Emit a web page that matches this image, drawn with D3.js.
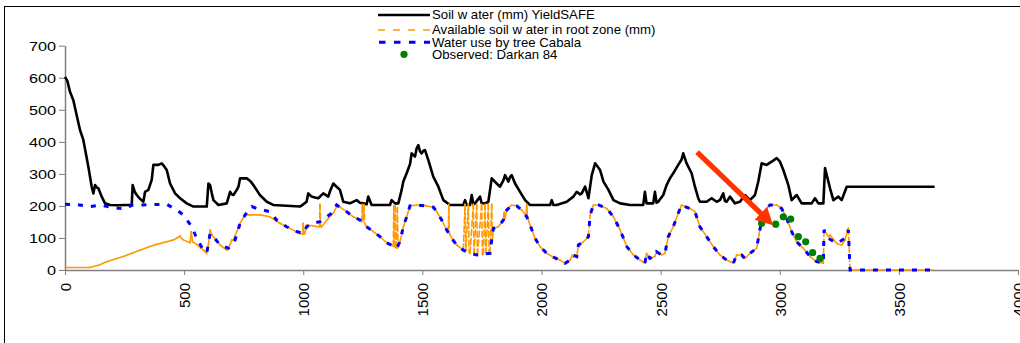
<!DOCTYPE html>
<html>
<head>
<meta charset="utf-8">
<script src="https://cdn.jsdelivr.net/npm/d3@7"></script>
<style>
  html, body { margin: 0; padding: 0; background: #fff; }
  svg { display: block; font-family: "Liberation Sans", Arial, sans-serif; }
</style>
</head>
<body>
<svg id="chart" width="1020" height="343"></svg>
<script>
// ---- data: [day, mm] ----
const soilWater = [
  [0,603],[10,590],[21,556],[35,530],[50,480],[63,437],[77,406],[98,322],[112,260],[119,239],[126,265],[133,258],
  [140,255],[154,229],[168,208],[189,203],[220,202],[259,203],[280,203],[284,265],[292,245],[301,234],[315,222],
  [329,213],[336,244],[350,250],[364,281],[371,328],[392,328],[406,333],[415,325],[427,312],[441,270],[462,239],
  [483,224],[511,208],[539,198],[595,198],[602,270],[609,265],[616,240],[623,218],[644,203],[679,208],[693,244],
  [700,236],[707,234],[721,250],[728,260],[735,286],[763,286],[777,278],[791,265],[818,234],[847,213],[874,203],
  [986,198],[1000,205],[1014,213],[1021,239],[1035,229],[1049,226],[1063,224],[1084,239],[1105,229],[1112,245],
  [1126,270],[1140,260],[1154,250],[1168,213],[1196,208],[1224,218],[1238,210],[1252,208],[1266,205],[1273,229],
  [1287,203],[1364,203],[1371,218],[1385,208],[1399,208],[1413,250],[1420,276],[1434,302],[1448,330],[1455,364],
  [1469,354],[1476,380],[1483,390],[1490,370],[1497,364],[1504,372],[1511,374],[1525,343],[1546,291],[1567,260],
  [1588,218],[1616,203],[1672,203],[1679,218],[1686,203],[1700,203],[1707,234],[1714,205],[1721,208],[1742,229],
  [1749,208],[1763,208],[1777,213],[1791,286],[1812,270],[1826,260],[1840,280],[1847,296],[1861,276],[1868,290],
  [1875,296],[1889,270],[1910,244],[1931,218],[1952,203],[2036,203],[2043,218],[2050,203],[2064,203],[2106,213],
  [2134,229],[2148,244],[2162,236],[2169,239],[2183,260],[2197,224],[2211,296],[2225,333],[2246,312],[2260,276],
  [2281,250],[2302,218],[2330,208],[2372,203],[2427,203],[2434,244],[2441,208],[2469,208],[2476,244],[2483,210],
  [2490,213],[2511,234],[2525,265],[2539,286],[2553,302],[2574,328],[2588,345],[2595,364],[2609,333],[2630,302],
  [2644,260],[2658,224],[2665,213],[2693,213],[2714,224],[2735,213],[2749,218],[2763,239],[2770,215],[2777,213],
  [2791,229],[2812,208],[2833,213],[2854,234],[2875,218],[2896,234],[2910,276],[2924,333],[2945,328],[2966,338],
  [2987,349],[3001,338],[3015,312],[3036,265],[3050,218],[3071,234],[3092,208],[3134,208],[3148,224],[3162,208],
  [3183,208],[3190,318],[3211,255],[3225,218],[3246,229],[3260,218],[3281,260],[3650,260]
];

const availableWater = [
  [0,8],[105,8],[140,15],[175,26],[210,34],[245,42],[280,52],[315,62],[350,72],[385,80],[427,88],[455,94],
  [469,99],[483,106],[490,98],[497,94],[525,85],[530,120],[535,88],[553,80],[567,70],[581,62],[595,52],[602,80],
  [609,125],[616,110],[623,104],[651,78],[679,62],[686,66],[700,94],[705,92],[721,120],[735,146],[756,172],
  [777,172],[819,172],[860,166],[902,146],[944,130],[986,114],[998,112],[1000,146],[1003,112],[1007,114],
  [1014,140],[1040,138],[1063,135],[1068,135],[1070,205],[1073,135],[1077,135],[1105,161],[1126,177],[1140,198],
  [1154,196],[1182,182],[1210,166],[1238,156],[1245,150],[1248,205],[1252,152],[1255,205],[1258,145],[1266,135],
  [1294,120],[1322,104],[1350,85],[1378,75],[1380,200],[1383,72],[1386,200],[1389,70],[1392,68],[1395,195],
  [1398,70],[1406,88],[1420,135],[1434,166],[1448,200],[1476,203],[1518,200],[1546,196],[1560,182],[1581,156],
  [1602,125],[1609,120],[1611,205],[1613,115],[1623,99],[1644,78],[1672,62],[1679,205],[1682,60],[1693,205],
  [1696,56],[1700,52],[1714,205],[1717,50],[1728,205],[1731,47],[1749,205],[1752,48],[1756,50],[1763,205],
  [1766,50],[1777,205],[1780,52],[1784,52],[1791,205],[1794,94],[1798,130],[1819,135],[1840,156],[1843,180],
  [1846,160],[1854,187],[1875,203],[1896,200],[1917,187],[1935,170],[1938,205],[1941,166],[1952,140],[1973,99],
  [1994,73],[2022,52],[2050,40],[2078,31],[2099,21],[2120,31],[2130,47],[2134,40],[2148,42],[2155,78],[2176,88],
  [2197,104],[2204,172],[2218,203],[2239,203],[2274,192],[2302,166],[2330,125],[2358,73],[2386,47],[2414,31],
  [2434,21],[2441,52],[2455,36],[2476,42],[2483,57],[2504,47],[2518,52],[2532,104],[2553,135],[2574,177],
  [2588,203],[2602,198],[2623,192],[2644,182],[2665,135],[2693,104],[2721,73],[2749,47],[2777,31],[2805,21],
  [2819,47],[2840,47],[2854,36],[2875,52],[2903,68],[2914,114],[2924,156],[2945,192],[2959,203],[2987,203],
  [3008,192],[3029,161],[3050,120],[3071,88],[3099,68],[3127,42],[3155,26],[3183,21],[3186,125],[3204,104],
  [3211,109],[3239,83],[3260,78],[3274,94],[3288,130],[3295,0],[3640,0]
];

const treeWaterUse = [
  [0,205],[50,204],[105,198],[150,202],[196,196],[252,190],[280,202],[350,204],[427,205],[469,187],[497,172],
  [532,135],[553,99],[581,62],[595,54],[602,83],[609,114],[623,104],[651,78],[686,68],[714,94],[735,146],
  [756,172],[784,198],[805,192],[860,182],[888,156],[930,135],[972,120],[1000,114],[1014,135],[1042,146],
  [1070,151],[1098,166],[1119,177],[1140,203],[1154,196],[1182,182],[1210,166],[1238,156],[1266,135],[1294,120],
  [1322,104],[1350,85],[1378,75],[1392,68],[1406,88],[1420,135],[1434,166],[1448,200],[1476,203],[1518,200],
  [1546,196],[1560,182],[1581,156],[1602,125],[1623,99],[1644,78],[1672,62],[1700,52],[1728,47],[1756,50],
  [1784,52],[1791,94],[1798,130],[1819,135],[1840,156],[1854,187],[1875,203],[1896,200],[1917,187],[1938,166],
  [1952,140],[1973,99],[1994,73],[2022,52],[2050,40],[2078,31],[2099,21],[2120,31],[2134,47],[2148,42],[2155,78],
  [2176,88],[2197,104],[2204,172],[2218,203],[2239,203],[2274,192],[2302,166],[2330,125],[2358,73],[2386,47],
  [2414,31],[2434,21],[2441,52],[2455,36],[2476,42],[2483,57],[2504,47],[2518,52],[2532,104],[2553,135],
  [2574,177],[2588,203],[2602,198],[2623,192],[2644,182],[2665,135],[2693,104],[2721,73],[2749,47],[2777,31],
  [2805,21],[2819,47],[2840,47],[2854,36],[2875,52],[2903,68],[2914,114],[2924,156],[2945,192],[2959,203],
  [2987,203],[3008,192],[3029,161],[3050,120],[3071,88],[3099,68],[3127,42],[3155,26],[3183,21],[3186,125],
  [3204,99],[3239,83],[3274,99],[3288,125],[3295,0],[3645,0]
];

const observedDarkan = [
  [2924,146],[2983,143],[3015,166],[3046,159],[3078,104],[3109,88],[3138,54],[3169,36]
];

// annotation arrow, in data units
const arrowFrom = [2653, 368];
const arrowTo = [2972, 140];

const xTicks = [0, 500, 1000, 1500, 2000, 2500, 3000, 3500, 4000];
const yTicks = [0, 100, 200, 300, 400, 500, 600, 700];

const legendLabels = [
  "Soil w ater (mm) YieldSAFE",
  "Available soil w ater in root zone (mm)",
  "Water use by tree Cabala",
  "Observed: Darkan 84"
];

// ---- colours ----
const cSoil = "#000000", cAvail = "#ff9900", cUse = "#0000ff", cObs = "#008000", cArrow = "#ff3300";
const axisGrey = "#808080";

const svg = d3.select("#chart");
const x = d3.scaleLinear().domain([0, 4000]).range([65, 1018]);
const y = d3.scaleLinear().domain([0, 700]).range([270, 45.7]);

// chart area frame (extends past the right and bottom edges)
svg.append("rect").attr("x", 4.5).attr("y", 6.5).attr("width", 1200).attr("height", 500)
  .attr("fill", "none").attr("stroke", "#000").attr("stroke-width", 1);

// ---- axes ----
const yAxis = svg.append("g").attr("transform", `translate(${x(0)},0)`)
  .call(d3.axisLeft(y).tickValues(yTicks).tickSize(6).tickSizeOuter(0).tickFormat(d3.format("d")));
yAxis.select(".domain").attr("stroke", axisGrey).attr("stroke-width", 1.5);
yAxis.selectAll(".tick line").attr("stroke", axisGrey);
yAxis.selectAll(".tick text")
  .attr("x", 0).attr("dy", "0.36em")
  .attr("transform", "translate(-9,0) scale(1.25,1)")
  .style("font-size", "13px").attr("fill", "#000");

const xAxis = svg.append("g").attr("transform", `translate(0,${y(0)})`)
  .call(d3.axisBottom(x).tickValues(xTicks).tickSize(5).tickSizeOuter(0).tickFormat(d3.format("d")));
xAxis.select(".domain").attr("stroke", axisGrey).attr("stroke-width", 1.5);
xAxis.selectAll(".tick line").attr("stroke", axisGrey);
xAxis.selectAll(".tick text")
  .attr("y", 0).attr("x", -13).attr("dy", "0.36em")
  .attr("transform", "rotate(-90)")
  .style("text-anchor", "end").style("font-size", "15px").attr("fill", "#000");

const line = d3.line().x(d => x(d[0])).y(d => y(d[1]));

// soil water (YieldSAFE)
svg.append("path").datum(soilWater).attr("d", line)
  .attr("fill", "none").attr("stroke", cSoil).attr("stroke-width", 2.6)
  .attr("stroke-linejoin", "round");

// available soil water: drawn segment by segment so long jumps show the dash pattern
const availSegs = d3.pairs(availableWater);
svg.append("g").selectAll("line").data(availSegs).join("line")
  .attr("x1", d => x(d[0][0])).attr("y1", d => y(d[0][1]))
  .attr("x2", d => x(d[1][0])).attr("y2", d => y(d[1][1]))
  .attr("stroke", cAvail).attr("stroke-width", 1.6).attr("stroke-linecap", "round")
  .attr("stroke-dasharray", d => {
    const dx = Math.abs(x(d[1][0]) - x(d[0][0])), dy = Math.abs(y(d[1][1]) - y(d[0][1]));
    return (dy > 4 * dx && dy > 14) ? "6,3" : null;
  });

// water use by tree (Cabala)
svg.append("path").datum(treeWaterUse).attr("d", line)
  .attr("fill", "none").attr("stroke", cUse).attr("stroke-width", 3)
  .attr("stroke-dasharray", "5,8");

// observed
svg.append("g").selectAll("circle").data(observedDarkan).join("circle")
  .attr("cx", d => x(d[0])).attr("cy", d => y(d[1])).attr("r", 3.6).attr("fill", cObs);

// arrow annotation
{
  const x1 = x(arrowFrom[0]), y1 = y(arrowFrom[1]), x2 = x(arrowTo[0]), y2 = y(arrowTo[1]);
  const len = Math.hypot(x2 - x1, y2 - y1), ux = (x2 - x1) / len, uy = (y2 - y1) / len;
  const px = -uy, py = ux, head = 17, hw = 9, sw = 2.6;
  const bx = x2 - ux * head, by = y2 - uy * head;
  const pts = [
    [x1 + px * sw, y1 + py * sw], [bx + px * sw, by + py * sw], [bx + px * hw, by + py * hw],
    [x2, y2], [bx - px * hw, by - py * hw], [bx - px * sw, by - py * sw], [x1 - px * sw, y1 - py * sw]
  ];
  svg.append("polygon").attr("points", pts.map(p => p.join(",")).join(" ")).attr("fill", cArrow);
}

// ---- legend ----
const legend = svg.append("g");
const rowsY = [15, 30, 42.3, 54.3];
const lx0 = 378, lx1 = 430, tx = 432;
legend.append("line").attr("x1", lx0).attr("x2", lx1).attr("y1", rowsY[0]).attr("y2", rowsY[0])
  .attr("stroke", cSoil).attr("stroke-width", 2.6);
legend.append("line").attr("x1", lx0).attr("x2", lx1).attr("y1", rowsY[1]).attr("y2", rowsY[1])
  .attr("stroke", cAvail).attr("stroke-width", 1.5).attr("stroke-dasharray", "7,8");
legend.append("line").attr("x1", lx0 + 1).attr("x2", lx1).attr("y1", rowsY[2]).attr("y2", rowsY[2])
  .attr("stroke", cUse).attr("stroke-width", 3).attr("stroke-dasharray", "6.5,8.5");
legend.append("circle").attr("cx", (lx0 + lx1) / 2).attr("cy", rowsY[3]).attr("r", 3.6).attr("fill", cObs);
legend.selectAll("text").data(legendLabels).join("text")
  .attr("transform", (d, i) => `translate(${tx},${rowsY[i] + 4.3}) scale(1.1,1)`)
  .style("font-size", "12px").attr("fill", "#000")
  .text(d => d);
</script>
</body>
</html>
